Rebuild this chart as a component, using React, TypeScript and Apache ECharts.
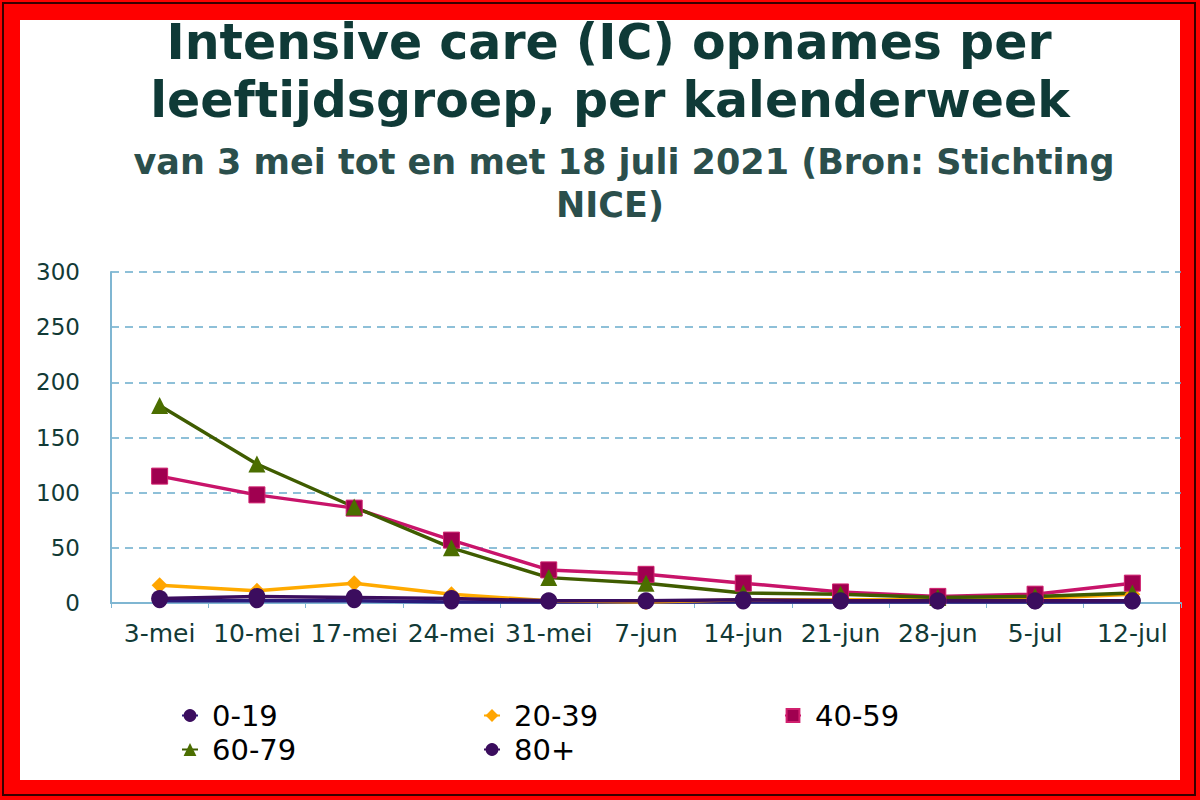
import React, { useEffect, useRef } from "react";
import * as echarts from "echarts";

const categories = ["3-mei", "10-mei", "17-mei", "24-mei", "31-mei", "7-jun", "14-jun", "21-jun", "28-jun", "5-jul", "12-jul"];
const age0to19 = [2, 2, 2, 1, 1, 1, 1, 1, 1, 1, 1];
const age20to39 = [16, 11, 18, 8, 2, 1, 3, 3, 3, 4, 8];
const age40to59 = [115, 98, 86, 57, 30, 26, 18, 10, 6, 8, 18];
const age60to79 = [179, 126, 87, 50, 23, 18, 9, 8, 5, 6, 9];
const age80plus = [4, 6, 5, 4, 2, 2, 3, 2, 2, 2, 2];
const yTicks = [0, 50, 100, 150, 200, 250, 300];

const FONT = "DejaVu Sans";
const TITLE_COLOR = "#0f3a37";
const SUB_COLOR = "#2b4f4c";

export default function App() {
  const ref = useRef<HTMLDivElement>(null);
  useEffect(() => {
    const chart = echarts.init(ref.current!, null, { renderer: "svg" });
    const legendPos = [
      { name: "0-19", left: 181, top: 701 },
      { name: "20-39", left: 483, top: 701 },
      { name: "40-59", left: 784, top: 701 },
      { name: "60-79", left: 181, top: 735 },
      { name: "80+", left: 483, top: 735 },
    ];
    const titleLine = (text: string, left: number, top: number, size: number, lh: number, color: string) => ({
      text,
      left,
      top,
      padding: 0,
      textAlign: "center",
      textStyle: { fontFamily: FONT, fontWeight: "bold", fontSize: size, lineHeight: lh, color },
    });
    chart.setOption({
      animation: false,
      backgroundColor: "#ffffff",
      graphic: [
        { type: "rect", z: -10, shape: { x: 0, y: 0, width: 1200, height: 800 }, style: { fill: "#ff0000" } },
        { type: "rect", z: -9, shape: { x: 3, y: 3, width: 1192, height: 792 }, style: { fill: "none", stroke: "#3a0000", lineWidth: 2 } },
        { type: "rect", z: -8, shape: { x: 20, y: 20, width: 1160, height: 760 }, style: { fill: "#ffffff" } },
      ],
      title: [
        titleLine("Intensive care (IC) opnames per", 609, 12, 49, 60, TITLE_COLOR),
        titleLine("leeftijdsgroep, per kalenderweek", 610, 70, 49, 60, TITLE_COLOR),
        titleLine("van 3 mei tot en met 18 juli 2021 (Bron: Stichting", 624, 142, 35, 40, SUB_COLOR),
        titleLine("NICE)", 610, 185, 35, 40, SUB_COLOR),
      ],
      legend: legendPos.map((l) => ({
        data: [l.name],
        left: l.left,
        top: l.top,
        padding: 0,
        itemWidth: 16,
        itemHeight: 16,
        itemGap: 6,
        textStyle: { fontFamily: FONT, fontSize: 29, color: "#000", padding: [0, 0, 0, 9] },
      })),
      grid: { left: 111, right: 19, top: 272, bottom: 197, containLabel: false },
      xAxis: {
        type: "category",
        data: categories,
        boundaryGap: true,
        axisLine: { lineStyle: { color: "#7fb6d2", width: 2 } },
        axisTick: { show: true, inside: false, length: 5, lineStyle: { color: "#7fb6d2" } },
        axisLabel: { fontFamily: FONT, fontSize: 25, color: "#123a36", margin: 18, interval: 0 },
      },
      yAxis: {
        type: "value",
        min: 0,
        max: 300,
        interval: 50,
        axisLine: { show: true, lineStyle: { color: "#7fb6d2", width: 2 } },
        axisTick: { show: false },
        splitLine: { lineStyle: { color: "#6aaccc", type: [8, 6], width: 1.5 } },
        axisLabel: {
          fontFamily: FONT,
          fontSize: 23,
          color: "#123a36",
          margin: 31,
          formatter: (v: number) => (yTicks.includes(v) ? String(v) : ""),
        },
      },
      series: [
        {
          name: "0-19",
          type: "line",
          data: age0to19,
          symbol: "circle",
          symbolSize: 15,
          lineStyle: { color: "#2a1a7a", width: 3.5 },
          itemStyle: { color: "#3b0d5e" },
        },
        {
          name: "20-39",
          type: "line",
          data: age20to39,
          symbol: "diamond",
          symbolSize: 16,
          lineStyle: { color: "#ffaa00", width: 3.5 },
          itemStyle: { color: "#ffa500" },
        },
        {
          name: "40-59",
          type: "line",
          data: age40to59,
          symbol: "rect",
          symbolSize: 16,
          lineStyle: { color: "#c8146a", width: 3.5 },
          itemStyle: { color: "#a00050", borderColor: "#d0206e", borderWidth: 1 },
        },
        {
          name: "60-79",
          type: "line",
          data: age60to79,
          symbol: "triangle",
          symbolSize: 17,
          lineStyle: { color: "#3f5c00", width: 3.5 },
          itemStyle: { color: "#4b6e00" },
        },
        {
          name: "80+",
          type: "line",
          data: age80plus,
          symbol: "circle",
          symbolSize: 17,
          lineStyle: { color: "#3b0d5e", width: 3.5 },
          itemStyle: { color: "#3b0d5e" },
        },
      ],
    });
    return () => chart.dispose();
  }, []);
  return (
    <div
      ref={ref}
      style={{ position: "fixed", left: 0, top: 0, width: 1200, height: 800 }}
    />
  );
}
